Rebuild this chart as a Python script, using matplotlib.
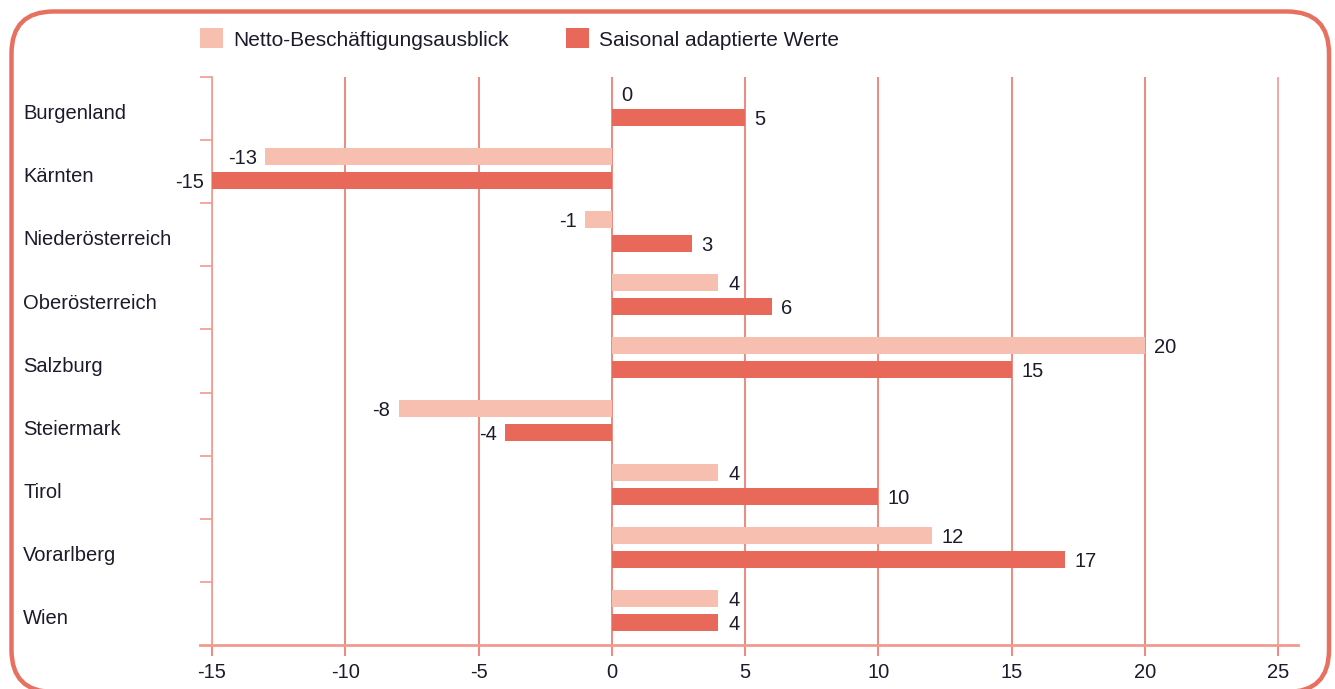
import matplotlib
matplotlib.use("Agg")
import matplotlib.pyplot as plt
from matplotlib.patches import FancyBboxPatch, Patch
from matplotlib.lines import Line2D
import numpy as np

categories = ["Burgenland", "Kärnten", "Niederösterreich", "Oberösterreich",
              "Salzburg", "Steiermark", "Tirol", "Vorarlberg", "Wien"]
netto = [0, -13, -1, 4, 20, -8, 4, 12, 4]
saisonal = [5, -15, 3, 6, 15, -4, 10, 17, 4]
xticks = [-15, -10, -5, 0, 5, 10, 15, 20, 25]
series_names = ["Netto-Beschäftigungsausblick", "Saisonal adaptierte Werte"]

c_light = "#F6BFB0"
c_dark = "#E8695A"
c_grid = "#EC7668"
c_spine = "#F29A90"
c_text = "#1B1B2B"
FS = 14.5

plt.rcParams['font.family'] = ['Liberation Sans', 'DejaVu Sans']

fig = plt.figure(figsize=(13.35, 6.89), dpi=100)
W, H = 1335, 689

# rounded border (in inches)
border = FancyBboxPatch((0.115, -0.03), 13.30 - 0.115 - 0.01, 6.775 + 0.03,
                        boxstyle="round,pad=0,rounding_size=0.42",
                        transform=fig.dpi_scale_trans, fill=False,
                        edgecolor="#E87060", linewidth=3.2, clip_on=False)
fig.patches.append(border)

ax = fig.add_axes([212 / W, 44 / H, 1086 / W, 568 / H])
y = np.arange(len(categories))
bh = 0.27
ax.barh(y - 0.24, netto, height=bh, color=c_light, zorder=3)
ax.barh(y + 0.14, saisonal, height=bh, color=c_dark, zorder=3)

ax.set_xlim(-15, 25.75)
ax.set_ylim(len(categories) - 0.5, -0.5)

def label_bars(ys, vals):
    for yi, v in zip(ys, vals):
        if v >= 0:
            ax.annotate(str(v), (v, yi), xytext=(7, 0), textcoords="offset points",
                        ha="left", va="center_baseline", fontsize=FS, color=c_text)
        else:
            ax.annotate(str(v), (v, yi), xytext=(-6, 0), textcoords="offset points",
                        ha="right", va="center_baseline", fontsize=FS, color=c_text)

label_bars(y - 0.24, netto)
label_bars(y + 0.14, saisonal)

ax.set_xticks(xticks)
ax.set_xticklabels([str(t) for t in xticks])
ax.tick_params(axis="x", length=8, width=1.2, color=c_grid, labelsize=FS,
               labelcolor=c_text, pad=5)
for t in xticks:
    ax.axvline(t, color=c_grid if t not in (-15, 25) else c_spine,
               linewidth=1.2, zorder=1)

ax.set_yticks(y + 0.05)
ax.set_yticklabels(categories)
ax.tick_params(axis="y", which="major", length=0, labelsize=FS,
               labelcolor=c_text, pad=136)
for lab in ax.get_yticklabels():
    lab.set_horizontalalignment("left")
ax.set_yticks(np.arange(-0.5, len(categories) - 0.5, 1.0), minor=True)
ax.tick_params(axis="y", which="minor", length=9, width=1.2, color=c_spine)

for s in ["top", "right", "bottom"]:
    ax.spines[s].set_visible(False)
ax.spines["left"].set_color(c_spine)
ax.spines["left"].set_linewidth(1.2)
ax.add_line(Line2D([-0.011, 1.0], [0, 0], transform=ax.transAxes,
                   color=c_spine, linewidth=2, clip_on=False, zorder=4))

handles = [Patch(facecolor=c_light, edgecolor="none"),
           Patch(facecolor=c_dark, edgecolor="none")]
fig.legend(handles, series_names, loc="center left",
           bbox_to_anchor=(200 / W, 1 - 39 / H), ncol=2, frameon=False,
           fontsize=15, handlelength=1.1, handleheight=1.1,
           handletextpad=0.48, columnspacing=2.75, labelcolor=c_text,
           borderpad=0, borderaxespad=0)

fig.savefig("out.png", dpi=100)
